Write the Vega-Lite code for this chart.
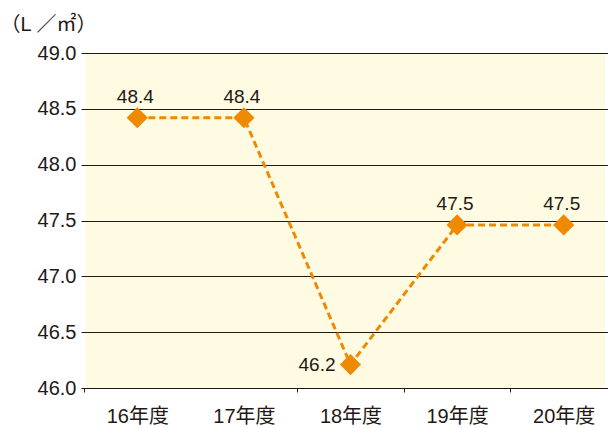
{
  "$schema": "https://vega.github.io/schema/vega-lite/v6.json",
  "width": 519,
  "height": 335,
  "autosize": {"type": "none"},
  "padding": {"left": 86, "top": 53, "right": 3, "bottom": 40},
  "background": "white",
  "config": {
    "view": {"fill": "#fffbe2", "stroke": null},
    "font": "Liberation Sans, Noto Sans CJK JP"
  },
  "data": {
    "values": [
      {"year": "16年度", "value": 48.42},
      {"year": "17年度", "value": 48.42},
      {"year": "18年度", "value": 46.21},
      {"year": "19年度", "value": 47.46},
      {"year": "20年度", "value": 47.46}
    ]
  },
  "encoding": {
    "x": {
      "field": "year",
      "type": "ordinal",
      "sort": null,
      "scale": {"type": "band", "range": [-2, 531], "paddingInner": 0, "paddingOuter": 0},
      "axis": {
        "title": null,
        "domain": false,
        "grid": false,
        "labelAngle": 0,
        "tickBand": "extent",
        "tickSize": 4,
        "tickColor": "#231815",
        "tickOpacity": {"condition": {"test": "datum.value === '16年度'", "value": 0}, "value": 1},
        "labelFontSize": 20,
        "labelColor": "#231815",
        "labelPadding": 14
      }
    },
    "y": {
      "field": "value",
      "type": "quantitative",
      "scale": {"domain": [46, 49], "zero": false, "nice": false},
      "axis": {
        "values": [46, 46.5, 47, 47.5, 48, 48.5, 49],
        "format": ".1f",
        "domain": false,
        "grid": true,
        "gridColor": "#231815",
        "gridWidth": 1,
        "gridOpacity": 1,
        "tickSize": 5,
        "tickColor": "#231815",
        "labelFontSize": 20,
        "labelPadding": 5,
        "labelColor": "#231815",
        "title": "（L ／㎡）",
        "titleAngle": 0,
        "titleAlign": "left",
        "titleBaseline": "alphabetic",
        "titleX": -86,
        "titleY": -23,
        "titleFontSize": 20,
        "titleFontWeight": "normal",
        "titleColor": "#231815"
      }
    }
  },
  "layer": [
    {"mark": {"type": "line", "color": "#ef8a00", "strokeWidth": 3, "strokeDash": [7, 4]}},
    {"mark": {"type": "point", "shape": "diamond", "filled": true, "size": 450, "color": "#ef8a00", "opacity": 1}},
    {
      "transform": [{"filter": "datum.year !== '18年度'"}],
      "mark": {"type": "text", "baseline": "alphabetic", "dy": -15, "dx": -2, "fontSize": 19, "color": "#231815"},
      "encoding": {"text": {"field": "value", "type": "quantitative", "format": ".1f"}}
    },
    {
      "transform": [{"filter": "datum.year === '18年度'"}],
      "mark": {"type": "text", "align": "right", "baseline": "middle", "dx": -15, "fontSize": 19, "color": "#231815"},
      "encoding": {"text": {"field": "value", "type": "quantitative", "format": ".1f"}}
    }
  ]
}
